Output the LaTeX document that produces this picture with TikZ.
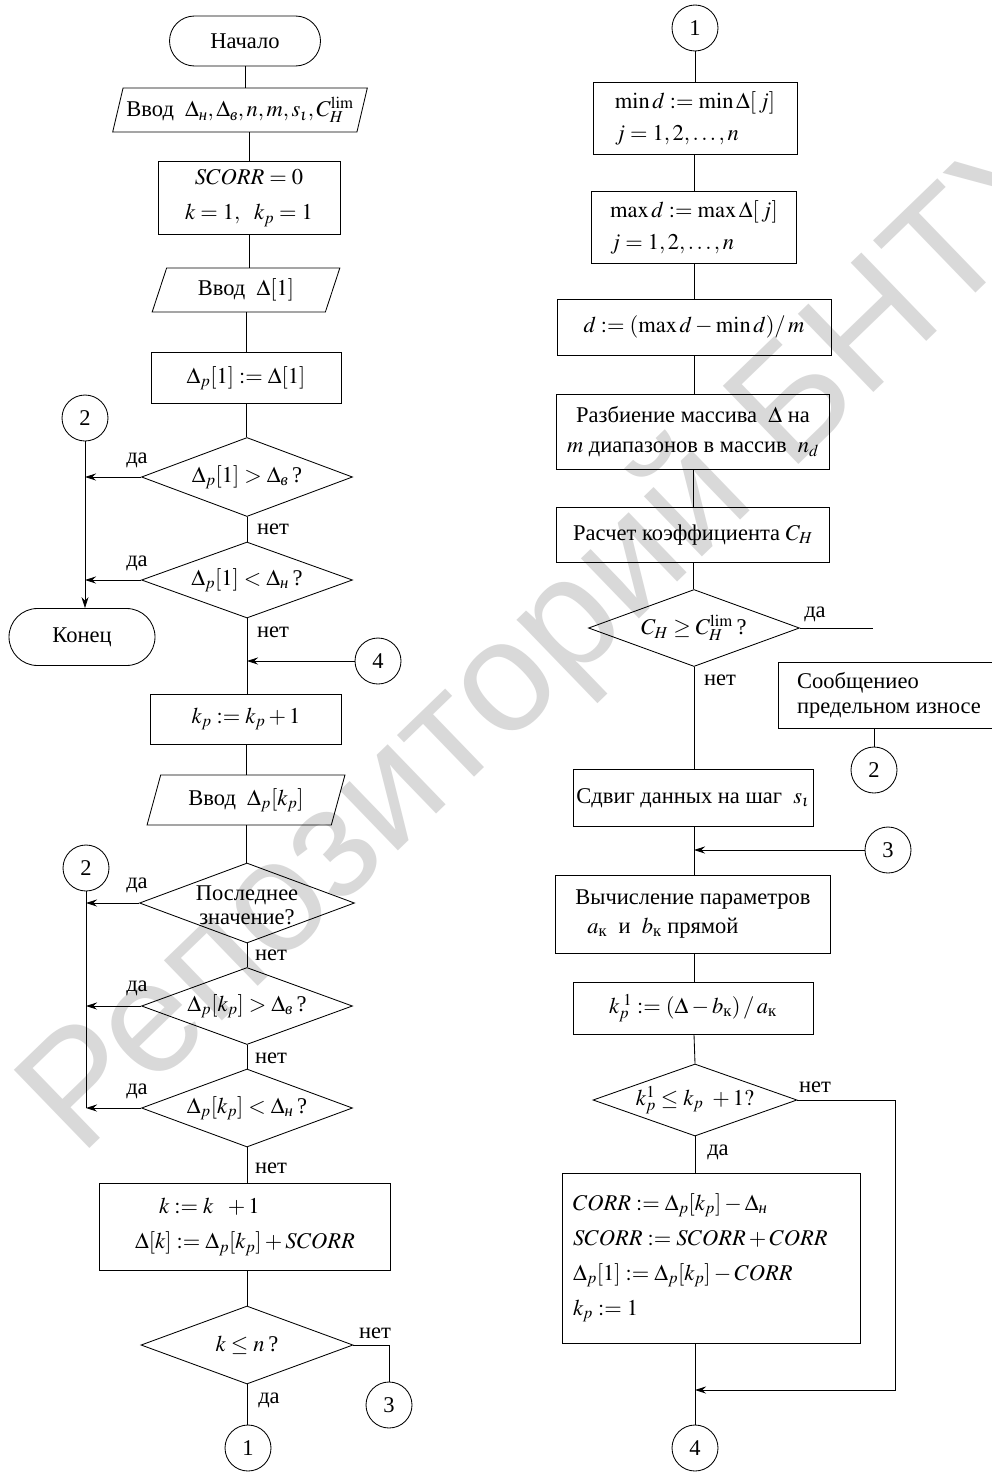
\documentclass[tikz,border=0pt]{standalone}
\usepackage{amsmath}
\usepackage{mathptmx}
\usepackage{fontspec}
\setmainfont{Liberation Serif}
\newfontfamily\wmfont{Liberation Sans}
\usetikzlibrary{arrows.meta,shapes.geometric,shapes.misc}
\newcommand\myfs{\fontsize{22.5}{28}\selectfont}
\newcommand\citx[1]{\text{\itshape #1}}
\newcommand\cupx[1]{\text{\upshape #1}}
\tikzset{
  nbase/.style={draw, line width=0.85pt, font=\myfs, inner sep=2pt},
  term/.style={nbase, rounded rectangle},
  proc/.style={nbase, rectangle},
  io/.style={nbase, trapezium, trapezium left angle=71, trapezium right angle=109, trapezium stretches=true},
  dia/.style={nbase, diamond, aspect=2.7, inner sep=0pt},
  con/.style={nbase, circle, minimum size=46pt, inner sep=0pt},
  lab/.style={font=\myfs, inner sep=1pt},
  ln/.style={line width=0.85pt},
  arr/.style={ln, -{Stealth[length=11pt,width=7pt]}},
}
\begin{document}
\begin{tikzpicture}[x=1pt,y=-1pt]
\useasboundingbox (0,0) rectangle (991,1472);
\fill[white] (0,0) rectangle (991,1472);
% watermark
\node[text=black!15, font=\wmfont\fontsize{158}{158}\selectfont, rotate=44, inner sep=0pt] (wm) at (555,641) {Репозиторий БНТУ};

% ---------- left column ----------
\node[term, minimum width=155pt, minimum height=50pt] (start) at (245,41) {Начало};
\node[io, minimum width=255pt, minimum height=44pt] (in1) at (240,110) {Ввод~~$\Delta_{\citx{н}},\Delta_{\citx{в}},n,m,s_\iota,C_H^{\lim}$};
\node[proc, minimum width=182pt, minimum height=73pt, align=center] (init) at (249,198) {$SCORR=0$\\[7pt]$k=1,\ \ k_p=1$};
\node[io, minimum width=188pt, minimum height=44pt] (in2) at (246,290) {Ввод~~$\Delta[1]$};
\node[proc, minimum width=190pt, minimum height=51pt] (asg1) at (246,378) {$\Delta_p[1]:=\Delta[1]$};
\node[con] (c2a) at (85,418) {2};
\node[dia, minimum width=211pt, minimum height=79pt] (q1) at (247,477) {$\Delta_p[1]>\Delta_{\citx{в}}$\,?};
\node[dia, minimum width=211pt, minimum height=76pt] (q2) at (247,580) {$\Delta_p[1]<\Delta_{\citx{н}}$\,?};
\node[term, minimum width=150pt, minimum height=57pt] (stop) at (82,637) {Конец};
\node[con] (c4a) at (378,661) {4};
\node[proc, minimum width=191pt, minimum height=50pt] (kinc) at (246,719) {$k_p:=k_p+1$};
\node[io, minimum width=198pt, minimum height=50pt] (in3) at (246,800) {Ввод~~$\Delta_p[k_p]$};
\node[con] (c2b) at (86,868) {2};
\node[dia, minimum width=215pt, minimum height=80pt] (q3) at (247,903) {\smash{\raisebox{-10pt}{\begin{tabular}{@{}c@{}}Последнее\\[-4pt]значение?\end{tabular}}}};
\node[dia, minimum width=211pt, minimum height=77pt] (q4) at (247,1006) {$\Delta_p[k_p]>\Delta_{\citx{в}}$\,?};
\node[dia, minimum width=211pt, minimum height=78pt] (q5) at (247,1108) {$\Delta_p[k_p]<\Delta_{\citx{н}}$\,?};
\node[proc, minimum width=291pt, minimum height=87pt, align=left] (upd) at (245,1227) {\hspace*{24pt}$k:=k\ \ +1$\\[7pt]$\Delta[k]:=\Delta_p[k_p]+SCORR$};
\node[dia, minimum width=212pt, minimum height=78pt] (q6) at (247,1345) {$k\le n$\,?};
\node[con] (c3a) at (389,1405) {3};
\node[con] (c1a) at (248,1448) {1};

% labels left
\node[lab] (l1) at (137,460) {да};
\node[lab] (l2) at (273,529) {нет};
\node[lab] (l3) at (137,563) {да};
\node[lab] (l4) at (273,632) {нет};
\node[lab] (l5) at (137,885) {да};
\node[lab] (l6) at (271,955) {нет};
\node[lab] (l7) at (137,988) {да};
\node[lab] (l8) at (271,1058) {нет};
\node[lab] (l9) at (137,1091) {да};
\node[lab] (l10) at (271,1168) {нет};
\node[lab] (l11) at (375,1333) {нет};
\node[lab] (l12) at (269,1400) {да};

% connectors left
\draw[ln] (start.south) -- (start.south |- in1.north);
\draw[ln] (in1.south -| init.north) -- (init.north);
\draw[ln] (init.south) -- (init.south |- in2.north);
\draw[ln] (in2.south) -- (in2.south |- asg1.north);
\draw[ln] (asg1.south) -- (asg1.south |- q1.north);
\draw[ln] (q1.south) -- (q2.north);
\draw[arr] (q1.west) -- (q1.west -| c2a);
\draw[arr] (q2.west) -- (q2.west -| c2a);
\draw[arr] (c2a.south) -- (c2a.south |- stop.north);
\draw[ln] (q2.south) -- (q2.south |- kinc.north);
\coordinate (j4) at (q2.south |- c4a.west);
\draw[arr] (c4a.west) -- (j4);
\draw[ln] (kinc.south) -- (kinc.south |- in3.north);
\draw[ln] (in3.south) -- (in3.south |- q3.north);
\draw[ln] (q3.south) -- (q4.north);
\draw[ln] (q4.south) -- (q5.north);
\draw[ln] (c2b.south) -- (c2b.south |- q5.west);
\draw[arr] (q3.west) -- (q3.west -| c2b);
\draw[arr] (q4.west) -- (q4.west -| c2b);
\draw[arr] (q5.west) -- (q5.west -| c2b);
\draw[ln] (q5.south) -- (q5.south |- upd.north);
\draw[ln] (q5.south |- upd.south) -- (q6.north);
\draw[ln] (q6.south) -- (q6.south |- c1a.north);
\draw[ln] (q6.east) -- (q6.east -| c3a) -- (c3a.north);

% ---------- right column ----------
\node[con] (c1b) at (695,28) {1};
\node[proc, minimum width=204pt, minimum height=72pt, align=left] (mind) at (695,118) {$\min d:=\min\Delta[\,j]$\\[4pt]$j=1,2,\ldots,n$};
\node[proc, minimum width=205pt, minimum height=72pt, align=left] (maxd) at (694,227) {$\max d:=\max\Delta[\,j]$\\[4pt]$j=1,2,\ldots,n$};
\node[proc, minimum width=274pt, minimum height=56pt] (dd) at (694,327) {$d:=(\max d-\min d)/\,m$};
\node[proc, minimum width=273pt, minimum height=75pt, align=center] (split) at (693,432) {Разбиение массива~~$\Delta$ на\\[2pt]$m$ диапазонов в массив~~$n_d$};
\node[proc, minimum width=273pt, minimum height=55pt] (calc) at (693,535) {Расчет коэффициента $C_H$};
\node[dia, minimum width=211pt, minimum height=77pt] (qc) at (694,628) {$C_H\ge C_H^{\lim}$\,?};
\coordinate (yesend) at (873,628);
\node[proc, minimum width=222pt, minimum height=66pt, align=left] (msg) at (889,695) {Сообщениео\\[-3pt]предельном износе};
\node[con] (c2c) at (874,770) {2};
\node[proc, minimum width=240pt, minimum height=57pt] (shift) at (693,798) {Сдвиг данных на шаг~~$s_\iota$};
\node[con] (c3b) at (888,850) {3};
\node[proc, minimum width=275pt, minimum height=78pt, align=left] (par) at (693,914) {Вычисление параметров\\[1pt]\hspace*{12pt}$a_{\cupx{к}}$~~и~~$b_{\cupx{к}}$ прямой};
\node[proc, minimum width=240pt, minimum height=52pt] (kp1) at (693,1008) {$k_p^{\;1}:=(\Delta-b_{\cupx{к}})\,/\,a_{\cupx{к}}$};
\node[dia, minimum width=204pt, minimum height=66pt] (qk) at (695,1100) {$k^1_p\le k_p\ +1?$};
\node[proc, minimum width=298pt, minimum height=170pt, align=left, text width=276pt, inner xsep=11pt] (corr) at (711,1258) {$CORR:=\Delta_p[k_p]-\Delta_{\citx{н}}$\\[7pt]$SCORR:=SCORR+CORR$\\[7pt]$\Delta_p[1]:=\Delta_p[k_p]-CORR$\\[7pt]$k_p:=1$};
\node[con] (c4b) at (695,1448) {4};

% labels right
\node[lab] (r1) at (815,614) {да};
\node[lab] (r2) at (720,680) {нет};
\node[lab] (r3) at (815,1087) {нет};
\node[lab] (r4) at (718,1152) {да};

% connectors right
\draw[ln] (c1b.south) -- (c1b.south |- mind.north);
\draw[ln] (mind.south -| maxd.north) -- (maxd.north);
\draw[ln] (maxd.south) -- (maxd.south |- dd.north);
\draw[ln] (dd.south) -- (dd.south |- split.north);
\draw[ln] (split.south) -- (split.south |- calc.north);
\draw[ln] (calc.south) -- (calc.south |- qc.north);
\draw[ln] (qc.east) -- (yesend);
\draw[ln] (msg.south -| c2c) -- (c2c.north);
\draw[ln] (qc.south) -- (qc.south |- shift.north);
\draw[ln] (qc.south |- shift.south) -- (qc.south |- par.north);
\coordinate (j3) at (qc.south |- c3b.west);
\draw[arr] (c3b.west) -- (j3);
\draw[ln] (qc.south |- par.south) -- (qc.south |- kp1.north);
\draw[ln] (qc.south |- kp1.south) -- (qk.north);
\draw[ln] (qk.south) -- (qk.south |- corr.north);
\draw[ln] (qk.south |- corr.south) -- (c4b.north);
\coordinate (j4b) at (695,1390);
\draw[arr] (qk.east) -- ++(98,0) |- (j4b);
\end{tikzpicture}
\end{document}
